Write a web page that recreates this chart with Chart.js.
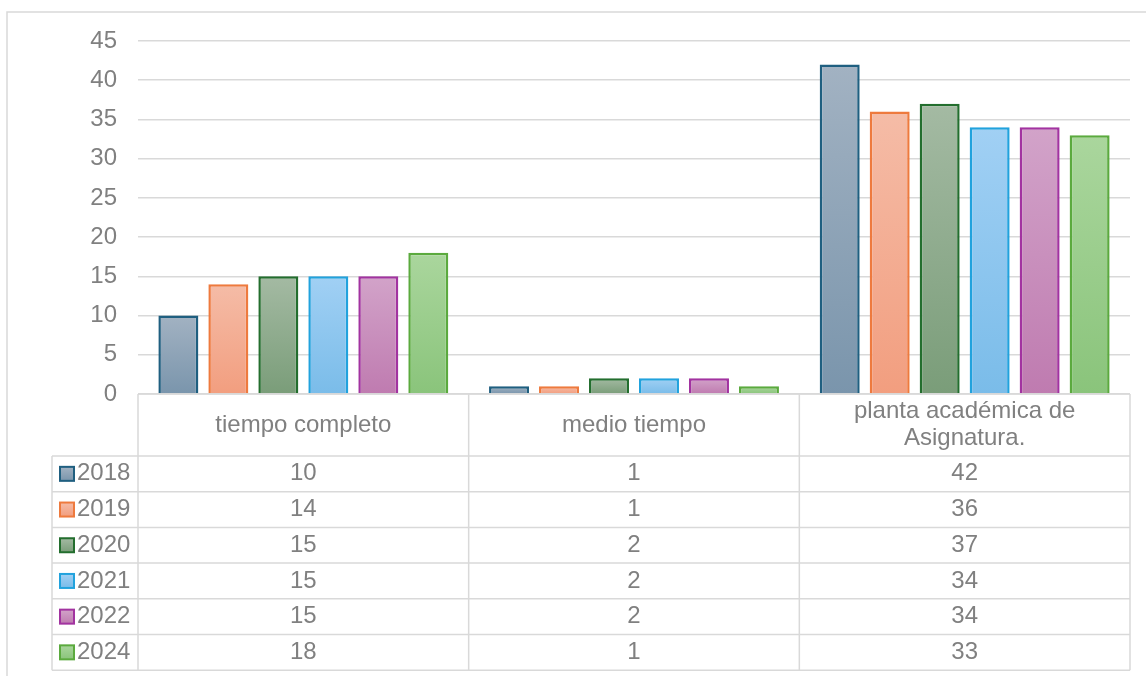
<!DOCTYPE html>
<html>
<head>
<meta charset="utf-8">
<script src="https://cdn.jsdelivr.net/npm/chart.js@4"></script>
<style>
  html, body { margin: 0; padding: 0; background: #fff; }
  #chart { display: block; }
</style>
</head>
<body>
<canvas id="chart" width="1146" height="676"></canvas>
<script>
// Data
const categories = ['tiempo completo', 'medio tiempo', ['planta académica de', 'Asignatura.']];
const years = ['2018', '2019', '2020', '2021', '2022', '2024'];
const values2018 = [10, 1, 42];
const values2019 = [14, 1, 36];
const values2020 = [15, 2, 37];
const values2021 = [15, 2, 34];
const values2022 = [15, 2, 34];
const values2024 = [18, 1, 33];
const yTicks = [0, 5, 10, 15, 20, 25, 30, 35, 40, 45];

const seriesValues = [values2018, values2019, values2020, values2021, values2022, values2024];

// Colors (border, gradient top, gradient bottom)
const borderColors = ['#1f5f80', '#ee7a3e', '#236e2e', '#21a2dd', '#a233a0', '#5baa3e'];
const topColors = ['#a2b2c2', '#f5bca7', '#a4baa3', '#a1d0f4', '#d2a3c9', '#aad69d'];
const bottomColors = ['#7a95ac', '#f29e7f', '#7a9d79', '#7abce9', '#bf7bb0', '#8ac47b'];

const textColor = '#808080';
const lineColor = '#d9d9d9';
const fontFamily = 'Arial, "Liberation Sans", sans-serif';

// Table geometry
const table = {
  headerTop: 394,
  headerBottom: 456,
  rowHeight: 35.7,
  legendLeft: 52,
};

function barGradient(ctx) {
  const chart = ctx.chart;
  const i = ctx.datasetIndex;
  if (!chart.chartArea || ctx.type !== 'data') return bottomColors[i];
  const y = chart.scales.y;
  const yTop = y.getPixelForValue(ctx.raw);
  const yBot = y.getPixelForValue(0);
  const g = chart.ctx.createLinearGradient(0, yTop, 0, yBot);
  g.addColorStop(0, topColors[i]);
  g.addColorStop(1, bottomColors[i]);
  return g;
}

// Draws the outer frame of the chart
const framePlugin = {
  id: 'frame',
  beforeDraw(chart) {
    const c = chart.ctx;
    c.save();
    c.strokeStyle = lineColor;
    c.lineWidth = 1.5;
    c.beginPath();
    c.moveTo(7, chart.height);
    c.lineTo(7, 12);
    c.lineTo(chart.width, 12);
    c.stroke();
    c.restore();
  }
};

// Data table under the plot, built from the same arrays
const dataTablePlugin = {
  id: 'dataTable',
  afterDraw(chart) {
    const c = chart.ctx;
    const area = chart.chartArea;
    const x = chart.scales.x;
    const colW = (area.right - area.left) / categories.length;
    const colEdges = categories.map((_, i) => area.left + i * colW).concat(area.right);
    const rowTops = years.map((_, i) => table.headerBottom + i * table.rowHeight);
    const tableBottom = table.headerBottom + years.length * table.rowHeight;

    c.save();
    c.strokeStyle = lineColor;
    c.lineWidth = 1.5;
    c.beginPath();
    // header top / axis line
    c.moveTo(area.left, table.headerTop);
    c.lineTo(area.right, table.headerTop);
    // column separators
    colEdges.forEach(cx => {
      c.moveTo(cx, table.headerTop);
      c.lineTo(cx, tableBottom);
    });
    c.moveTo(table.legendLeft, table.headerBottom);
    c.lineTo(table.legendLeft, tableBottom);
    // row lines
    rowTops.concat(tableBottom).forEach(ry => {
      c.moveTo(table.legendLeft, ry);
      c.lineTo(area.right, ry);
    });
    c.stroke();

    c.fillStyle = textColor;
    c.font = '24px ' + fontFamily;
    c.textAlign = 'center';
    c.textBaseline = 'middle';

    // category headers
    const headerMid = (table.headerTop + table.headerBottom) / 2;
    categories.forEach((label, i) => {
      const cx = x.getPixelForValue(i);
      const lines = Array.isArray(label) ? label : [label];
      const lh = 27;
      lines.forEach((ln, j) => {
        c.fillText(ln, cx, headerMid + (j - (lines.length - 1) / 2) * lh);
      });
    });

    // rows: legend key, year, values
    years.forEach((year, r) => {
      const my = rowTops[r] + table.rowHeight / 2;
      const g = c.createLinearGradient(0, my - 7, 0, my + 7);
      g.addColorStop(0, topColors[r]);
      g.addColorStop(1, bottomColors[r]);
      c.fillStyle = g;
      c.fillRect(60, my - 7, 14, 14);
      c.strokeStyle = borderColors[r];
      c.lineWidth = 2;
      c.strokeRect(60, my - 7, 14, 14);

      c.fillStyle = textColor;
      c.textAlign = 'left';
      c.fillText(year, 77, my);
      c.textAlign = 'center';
      seriesValues[r].forEach((v, i) => {
        c.fillText(String(v), x.getPixelForValue(i), my);
      });
    });
    c.restore();
  }
};

new Chart('chart', {
  type: 'bar',
  data: {
    labels: categories,
    datasets: years.map((year, i) => ({
      label: year,
      data: seriesValues[i],
      backgroundColor: barGradient,
      borderColor: borderColors[i],
      borderWidth: 2.5,
      borderSkipped: 'bottom',
      categoryPercentage: 0.907,
      barPercentage: 0.8,
    })),
  },
  options: {
    responsive: false,
    animation: false,
    layout: {
      padding: { top: 41, right: 16, bottom: 282, left: 0 }
    },
    plugins: {
      legend: { display: false },
      tooltip: { enabled: false },
    },
    scales: {
      x: {
        display: false,
      },
      y: {
        min: 0,
        max: 45,
        afterBuildTicks: axis => {
          axis.ticks = yTicks.map(v => ({ value: v }));
        },
        afterFit: axis => {
          axis.width = 138;
        },
        border: { display: false },
        grid: {
          color: lineColor,
          lineWidth: 1.5,
          drawTicks: false,
        },
        ticks: {
          color: textColor,
          padding: 21,
          font: { size: 24, family: fontFamily },
        },
      },
    },
  },
  plugins: [framePlugin, dataTablePlugin],
});
</script>
</body>
</html>
